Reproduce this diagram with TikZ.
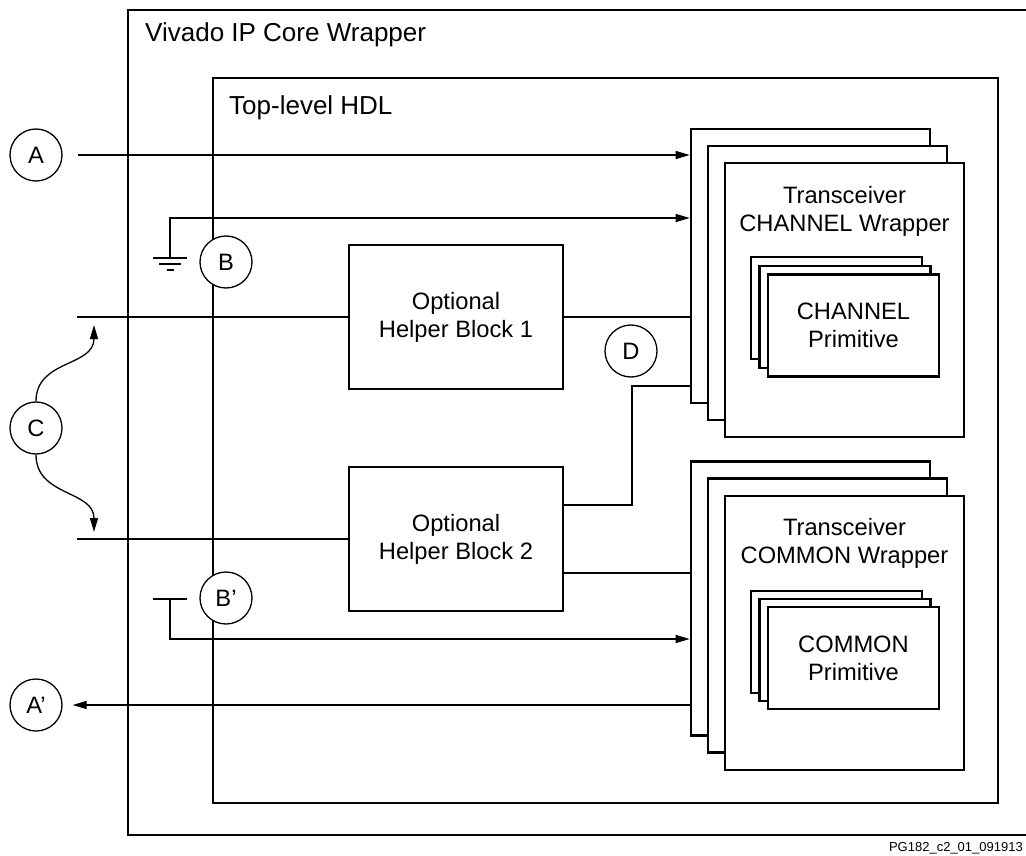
\documentclass[tikz,border=0pt]{standalone}
\usepackage{fontspec}
\setmainfont{Liberation Sans}
\usetikzlibrary{arrows.meta}

\begin{document}
\begin{tikzpicture}[x=1pt, y=-1pt,
  >={Triangle[length=14pt,width=8pt]},
  frame/.style={draw, line width=2.8pt},
  box/.style={draw, line width=2.6pt, fill=white, inner sep=0pt, align=center, font=\fontsize{23.7}{28}\selectfont},
  helper/.style={box, minimum width=214pt, minimum height=144pt},
  stackbox/.style={box, minimum width=239pt, minimum height=274pt},
  primbox/.style={box, minimum width=171pt, minimum height=102pt},
  sig/.style={line width=1.3pt},
  tag/.style={draw, circle, fill=white, line width=1.3pt, minimum size=52pt, inner sep=0pt, font=\fontsize{23.7}{28}\selectfont},
  title/.style={anchor=base west, inner sep=0pt, font=\fontsize{26}{31}\selectfont},
  wraptitle/.style={inner sep=0pt, align=center, font=\fontsize{23.7}{28}\selectfont}]
  \useasboundingbox (0,0) rectangle (1026,856);

  % wrappers
  \draw[frame] (128,10) rectangle (1040,835);
  \draw[frame] (213,78) rectangle (998,803);
  \node[title] (outerlbl) at (145,42) {Vivado IP Core Wrapper};
  \node[title] (innerlbl) at (229,115) {Top-level HDL};

  % transceiver channel stack
  \node[stackbox] (chanA) at (810.5,266) {};
  \node[stackbox] (chanB) at (827.5,283) {};
  \node[stackbox] (chanC) at (844.5,300) {};
  \node[wraptitle] (chantitle) at (844.5,211.5) {Transceiver\\CHANNEL Wrapper};
  \node[primbox] (chanpA) at (836.5,308) {};
  \node[primbox] (chanpB) at (845,317) {};
  \node[primbox] (chanpC) at (853.5,325.5) {CHANNEL\\Primitive};

  % transceiver common stack
  \node[stackbox] (comA) at (810.5,598.5) {};
  \node[stackbox] (comB) at (827.5,615.5) {};
  \node[stackbox] (comC) at (844.5,633) {};
  \node[wraptitle] (comtitle) at (844.5,543.5) {Transceiver\\COMMON Wrapper};
  \node[primbox] (compA) at (836.5,642) {};
  \node[primbox] (compB) at (845,650) {};
  \node[primbox] (compC) at (853.5,658) {COMMON\\Primitive};

  % helper blocks
  \node[helper] (help1) at (456,317) {Optional\\Helper Block 1};
  \node[helper] (help2) at (456,539) {Optional\\Helper Block 2};

  % port tags
  \node[tag] (sigA) at (36,155) {A};
  \node[tag] (sigB) at (226,262) {B};
  \node[tag] (sigC) at (36,428) {C};
  \node[tag] (sigD) at (631,351) {D};
  \node[tag] (sigBp) at (226,598) {B'};
  \node[tag] (sigAp) at (36,705) {A'};

  \coordinate (gnd) at (170,258);
  \coordinate (gndtop) at (170,218);
  \coordinate (tee) at (170,599);
  \coordinate (teebot) at (170,639);
  \coordinate (cin1) at (77,317);
  \coordinate (cin2) at (77,539);
  \coordinate (ctip1) at (94,325);
  \coordinate (ctip2) at (94,532);
  \coordinate (dbend) at (632,386);
  \coordinate (h2up) at ([yshift=34pt]help2.east);
  \coordinate (h2lo) at ([yshift=-34pt]help2.east);

  % A and A'
  \draw[sig,->] ([xshift=15pt]sigA.east) -- (sigA -| chanA.west);
  \draw[sig,->] (sigAp -| comA.west) -- ([xshift=10pt]sigAp.east);

  % B tied to ground, B' tied off
  \draw[sig,->] (gnd) -- (gndtop) -- (gndtop -| chanA.west);
  \draw[sig] (153,258) -- (187,258) (159,264) -- (181,264) (167,270) -- (174,270);
  \draw[sig] (153,599) -- (187,599);
  \draw[sig,->] (tee) -- (teebot) -- (teebot -| comA.west);

  % C through helper blocks
  \draw[sig] (cin1) -- (help1.west);
  \draw[sig] (help1.east) -- (help1 -| chanA.west);
  \draw[sig] (cin2) -- (help2.west);
  \draw[sig,->] (sigC.north) .. controls +(0,-42) and +(0,42) .. (ctip1);
  \draw[sig,->] (sigC.south) .. controls +(0,42) and +(0,-42) .. (ctip2);

  % D between helper 2 and channel
  \draw[sig] (h2up) -| (dbend) -- (dbend -| chanA.west);
  \draw[sig] (h2lo) -- (h2lo -| comA.west);

  \node[anchor=base east, inner sep=0pt, font=\fontsize{13}{16}\selectfont] (figid) at (1023,851) {PG182\_c2\_01\_091913};
\end{tikzpicture}
\end{document}
